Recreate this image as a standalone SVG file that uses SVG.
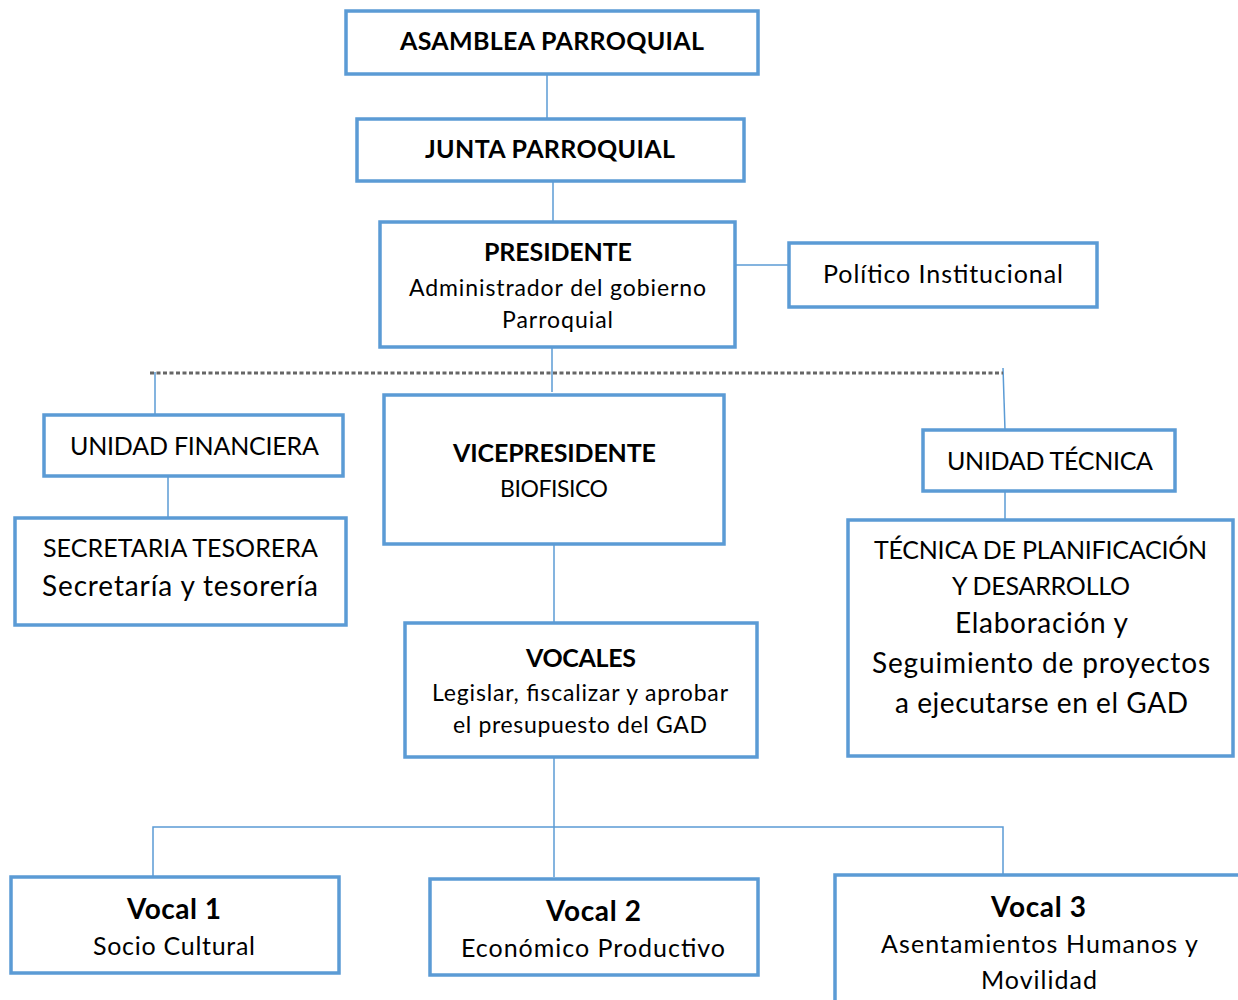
<svg xmlns="http://www.w3.org/2000/svg" width="1238" height="1000" viewBox="0 0 1238 1000">
<style>
.box{fill:#fff;stroke:#5b9bd5;stroke-width:3.5}
.ln{stroke:#5b9bd5;stroke-width:1.5;fill:none}
text{font-family:Lato,"Open Sans","Liberation Sans",sans-serif;fill:#000;text-anchor:middle}
.b{font-weight:bold}
</style>
<defs>
<filter id="blur" x="-5%" y="-100%" width="110%" height="300%"><feGaussianBlur stdDeviation="2"/></filter>
</defs>
<rect width="1238" height="1000" fill="#fff"/>
<g id="connectors">
<line class="ln" x1="547" y1="74" x2="547" y2="119"/>
<line class="ln" x1="553" y1="176" x2="553" y2="222"/>
<line class="ln" x1="735" y1="265" x2="789" y2="265"/>
<line class="ln" x1="552" y1="347" x2="552" y2="392"/>
<line class="ln" x1="155" y1="372" x2="155" y2="415"/>
<line class="ln" x1="1003" y1="368" x2="1005" y2="430"/>
<line class="ln" x1="168" y1="476" x2="168" y2="518"/>
<line class="ln" x1="1005" y1="491" x2="1005" y2="520"/>
<line class="ln" x1="554" y1="544" x2="554" y2="623"/>
<line class="ln" x1="554" y1="757" x2="554" y2="877"/>
<polyline class="ln" points="153,877 153,827 1003,827 1003,875"/>
<g id="dotted">
<line x1="138" y1="362" x2="1005" y2="362" stroke="#d8d8d8" stroke-width="8" stroke-dasharray="5 3" filter="url(#blur)"/>
<line x1="150" y1="373" x2="1003" y2="373" stroke="#444" stroke-width="3.5" stroke-dasharray="4 2.5" filter="url(#blur)" opacity="0.9"/>
<line x1="150" y1="373" x2="1003" y2="373" stroke="#666" stroke-width="3" stroke-dasharray="4 2.5"/>
</g>
</g>
<g id="asamblea"><rect class="box" x="346" y="11" width="412" height="63"/><text class="b" x="552" y="50" font-size="25" textLength="304">ASAMBLEA PARROQUIAL</text></g>
<g id="junta"><rect class="box" x="357" y="119" width="387" height="62"/><text class="b" x="550" y="158" font-size="25" textLength="250">JUNTA PARROQUIAL</text></g>
<g id="presidente"><rect class="box" x="380" y="222" width="355" height="125"/>
<text class="b" x="558" y="261" font-size="25" textLength="148">PRESIDENTE</text>
<text x="557.5" y="296" font-size="23" textLength="297">Administrador del gobierno</text>
<text x="557.5" y="328" font-size="23" textLength="111">Parroquial</text></g>
<g id="politico"><rect class="box" x="789" y="243" width="308" height="64"/><text x="943" y="283" font-size="25" textLength="240">Político Institucional</text></g>
<g id="financiera"><rect class="box" x="44" y="415" width="299" height="61"/><text x="194.5" y="455" font-size="25" textLength="249">UNIDAD FINANCIERA</text></g>
<g id="secretaria"><rect class="box" x="15" y="518" width="331" height="107"/>
<text x="180.5" y="557" font-size="25" textLength="275">SECRETARIA TESORERA</text>
<text x="180" y="596" font-size="28" textLength="276">Secretaría y tesorería</text></g>
<g id="vicepresidente"><rect class="box" x="384" y="395" width="340" height="149"/>
<text class="b" x="554.5" y="462" font-size="25" textLength="203">VICEPRESIDENTE</text>
<text x="554" y="497" font-size="23" textLength="108">BIOFISICO</text></g>
<g id="unidadtecnica"><rect class="box" x="923" y="430" width="252" height="61"/><text x="1050" y="470" font-size="25" textLength="206">UNIDAD TÉCNICA</text></g>
<g id="tecnica"><rect class="box" x="848" y="520" width="385" height="236"/>
<text x="1040.5" y="559" font-size="25" textLength="333">TÉCNICA DE PLANIFICACIÓN</text>
<text x="1041" y="595" font-size="25" textLength="178">Y DESARROLLO</text>
<text x="1041.5" y="633" font-size="28" textLength="173">Elaboración y</text>
<text x="1041" y="673" font-size="28" textLength="338">Seguimiento de proyectos</text>
<text x="1041.5" y="713" font-size="28" textLength="293">a ejecutarse en el GAD</text></g>
<g id="vocales"><rect class="box" x="405" y="623" width="352" height="134"/>
<text class="b" x="581" y="667" font-size="25" textLength="110">VOCALES</text>
<text x="580" y="701" font-size="23" textLength="296">Legislar, fiscalizar y aprobar</text>
<text x="580" y="733" font-size="23" textLength="254">el presupuesto del GAD</text></g>
<g id="vocal1"><rect class="box" x="11" y="877" width="328" height="96"/>
<text class="b" x="174" y="919" font-size="28" textLength="94">Vocal 1</text>
<text x="174" y="955" font-size="25" textLength="162">Socio Cultural</text></g>
<g id="vocal2"><rect class="box" x="430" y="879" width="328" height="96"/>
<text class="b" x="593.5" y="921" font-size="28" textLength="95">Vocal 2</text>
<text x="593" y="957" font-size="25" textLength="264">Económico Productivo</text></g>
<g id="vocal3"><rect class="box" x="835" y="875" width="420" height="140"/>
<text class="b" x="1038.5" y="917" font-size="28" textLength="95">Vocal 3</text>
<text x="1039.5" y="953" font-size="25" textLength="317">Asentamientos Humanos y</text>
<text x="1039" y="989" font-size="25" textLength="116">Movilidad</text></g>
</svg>
